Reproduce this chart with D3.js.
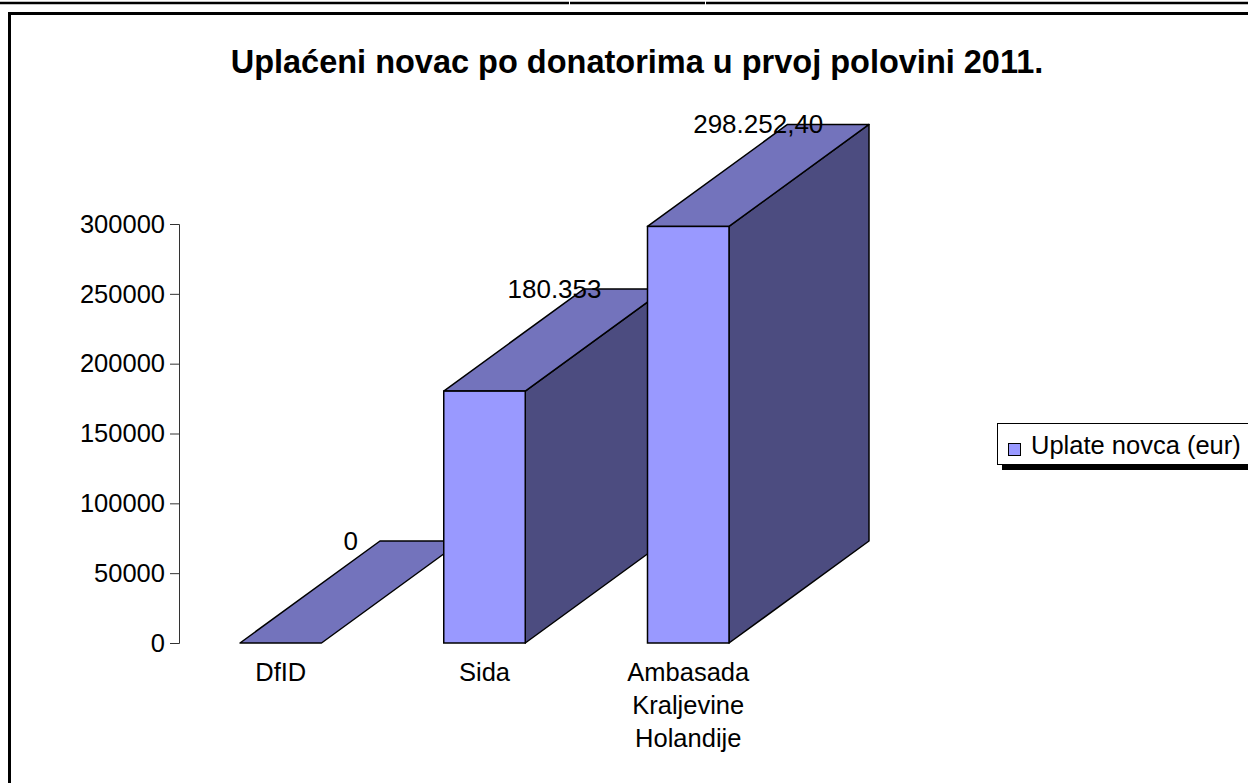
<!DOCTYPE html>
<html>
<head>
<meta charset="utf-8">
<script src="https://cdn.jsdelivr.net/npm/d3@7"></script>
<style>
  body { margin: 0; background: #fff; }
  svg { display: block; font-family: "Liberation Sans", Arial, sans-serif; }
</style>
</head>
<body>
<div id="chart"></div>
<script>
var categories = ["DfID", "Sida", "Ambasada Kraljevine Holandije"];
var catLines = [["DfID"], ["Sida"], ["Ambasada", "Kraljevine", "Holandije"]];
var values = [0, 180353, 298252.40];
var valueLabels = ["0", "180.353", "298.252,40"];
var yTicks = [0, 50000, 100000, 150000, 200000, 250000, 300000];
var seriesName = "Uplate novca (eur)";
var title = "Uplaćeni novac po donatorima u prvoj polovini 2011.";

var width = 1248, height = 783;
var depthX = 140, depthY = 102;
var fs = "25.5px";

var colFront = "#9999ff", colTop = "#7373bc", colSide = "#4c4c80";

var svg = d3.select("#chart").append("svg")
    .attr("width", width)
    .attr("height", height);

// top rule with small breaks
[[0, 569], [570, 705], [706, 1248]].forEach(function (s) {
    svg.append("line")
        .attr("x1", s[0]).attr("x2", s[1])
        .attr("y1", 3).attr("y2", 3)
        .attr("stroke", "#000").attr("stroke-width", 2.5);
});

// outer frame (runs off the page right/bottom)
svg.append("rect")
    .attr("x", 9.5).attr("y", 13.5)
    .attr("width", 1300).attr("height", 900)
    .attr("fill", "none").attr("stroke", "#000").attr("stroke-width", 3);

svg.append("text")
    .attr("x", 637).attr("y", 73)
    .attr("text-anchor", "middle")
    .style("font-size", "32.5px").style("font-weight", "bold")
    .text(title);

var y = d3.scaleLinear().domain([0, 300000]).range([643, 224]);
var x = d3.scaleBand().domain(categories).range([240, 729])
    .paddingInner(0.6).paddingOuter(0);
var bw = x.bandwidth();

var yAxis = svg.append("g")
    .attr("transform", "translate(179,0)")
    .call(d3.axisLeft(y).tickValues(yTicks).tickSize(9).tickPadding(5).tickFormat(d3.format("d")));
yAxis.selectAll("path, line").attr("stroke", "#333");
yAxis.selectAll("text").style("font-size", fs).attr("fill", "#000")
    .style("font-family", "'Liberation Sans', Arial, sans-serif");

var bars = svg.selectAll(".bar")
    .data(values)
    .enter().append("g")
    .attr("class", "bar");

bars.each(function (v, i) {
    var g = d3.select(this);
    var x0 = x(categories[i]), x1 = x0 + bw;
    var y0 = y(0), y1 = y(v);
    // side face
    if (v > 0) {
        g.append("path")
            .attr("d", "M" + x1 + "," + y1 + "L" + (x1 + depthX) + "," + (y1 - depthY) +
                "L" + (x1 + depthX) + "," + (y0 - depthY) + "L" + x1 + "," + y0 + "Z")
            .attr("fill", colSide).attr("stroke", "#000").attr("stroke-width", 1.5)
            .attr("stroke-linejoin", "round");
    }
    // top face
    g.append("path")
        .attr("d", "M" + x0 + "," + y1 + "L" + (x0 + depthX) + "," + (y1 - depthY) +
            "L" + (x1 + depthX) + "," + (y1 - depthY) + "L" + x1 + "," + y1 + "Z")
        .attr("fill", colTop).attr("stroke", "#000").attr("stroke-width", 1.5)
        .attr("stroke-linejoin", "round");
    // front face
    if (v > 0) {
        g.append("rect")
            .attr("x", x0).attr("y", y1)
            .attr("width", bw).attr("height", y0 - y1)
            .attr("fill", colFront).attr("stroke", "#000").attr("stroke-width", 1.5);
    }
});

// value labels
svg.selectAll(".vlabel")
    .data(values)
    .enter().append("text")
    .attr("class", "vlabel")
    .attr("x", function (d, i) { return x(categories[i]) + bw / 2 + depthX / 2; })
    .attr("y", function (d) { return y(d) - depthY + 9; })
    .attr("text-anchor", "middle")
    .style("font-size", "26px")
    .text(function (d, i) { return valueLabels[i]; });

// category labels
var cl = svg.selectAll(".clabel")
    .data(catLines)
    .enter().append("text")
    .attr("class", "clabel")
    .attr("text-anchor", "middle")
    .style("font-size", fs);
cl.each(function (lines, i) {
    var t = d3.select(this);
    lines.forEach(function (s, j) {
        t.append("tspan")
            .attr("x", x(categories[i]) + bw / 2)
            .attr("y", 681 + j * 33)
            .text(s);
    });
});

// legend
var leg = svg.append("g");
leg.append("rect")
    .attr("x", 1002).attr("y", 428)
    .attr("width", 300).attr("height", 42)
    .attr("fill", "#000");
leg.append("rect")
    .attr("x", 997.5).attr("y", 423.5)
    .attr("width", 300).attr("height", 41)
    .attr("fill", "#fff").attr("stroke", "#000").attr("stroke-width", 1);
leg.append("rect")
    .attr("x", 1008.5).attr("y", 443.5)
    .attr("width", 12).attr("height", 12)
    .attr("fill", colFront).attr("stroke", "#000").attr("stroke-width", 1);
leg.append("text")
    .attr("x", 1031).attr("y", 454)
    .style("font-size", fs)
    .text(seriesName);
</script>
</body>
</html>
